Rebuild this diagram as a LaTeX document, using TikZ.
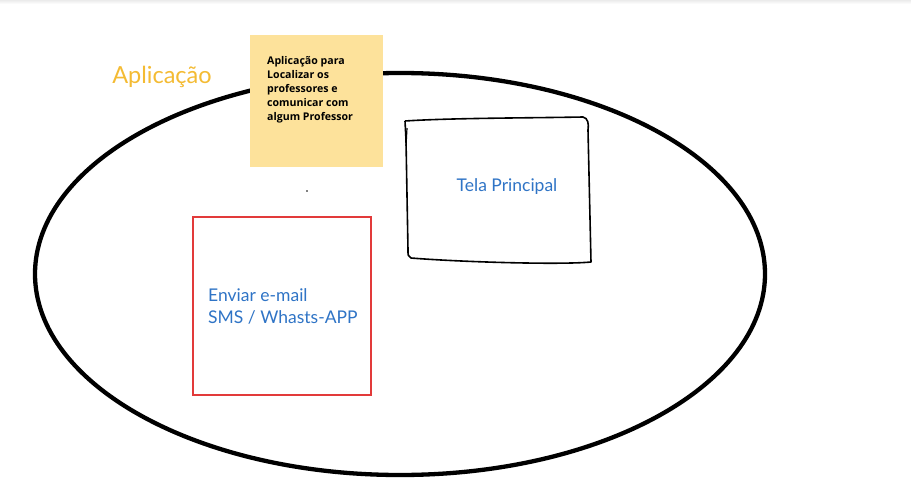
\documentclass[tikz,border=0pt]{standalone}
\usepackage{fontspec}
\setmainfont{Lato}
\newfontfamily\notefont{Open Sans}
\definecolor{noteyellow}{HTML}{FDE29B}
\definecolor{labelyellow}{HTML}{F4BB33}
\definecolor{textblue}{HTML}{2F74C6}
\definecolor{boxred}{HTML}{E23A3A}
\tikzset{
  lbl/.style={text=textblue, font=\fontsize{17.5}{22}\selectfont, align=left, inner sep=0pt},
  notetext/.style={font=\notefont\bfseries\fontsize{10.6}{14}\selectfont, align=left, inner sep=0pt, anchor=north west},
}
\begin{document}
\begin{tikzpicture}[x=1pt,y=-1pt]
\useasboundingbox (0,0) rectangle (911,490);
\fill[white] (0,0) rectangle (911,490);
\shade[top color=black!8, bottom color=white] (0,0) rectangle (911,4);
% big ellipse
\draw[line width=4.3pt] (400,274) ellipse [x radius=365, y radius=201];
% sticky note
\node[fill=noteyellow, minimum width=133pt, minimum height=132pt, inner sep=0pt, anchor=north west] (note) at (250,35) {};
\node[notetext] (notetxt) at (267,56) {Aplicação para\\Localizar os\\professores e\\comunicar com\\algum Professor};
% label
\node[text=labelyellow, font=\fontsize{23.5}{28}\selectfont, inner sep=0pt] (aplic) at (162,77) {Aplicação};
% dot
\fill (307,191) circle (0.8);
% Tela principal hand-drawn box
\draw[line width=1.6pt, line join=round] (405,121) .. controls (450,118) and (530,118) .. (583,117)
  .. controls (588,118) and (589,124) .. (588,130) -- (591,262)
  .. controls (560,265) and (460,262) .. (411,258)
  .. controls (408,257) and (408,255) .. (408,250) -- (406,140) -- (405,121);
\draw[line width=1.2pt] (407,128) -- (406,146);
\node[lbl] (tela) at (507,187) {Tela Principal};
% red box
\draw[boxred, line width=2.4pt] (193,217) rectangle (371,395);
\node[lbl, anchor=west] (enviar) at (208,306) {Enviar e-mail\\SMS / Whasts-APP};
\end{tikzpicture}
\end{document}
